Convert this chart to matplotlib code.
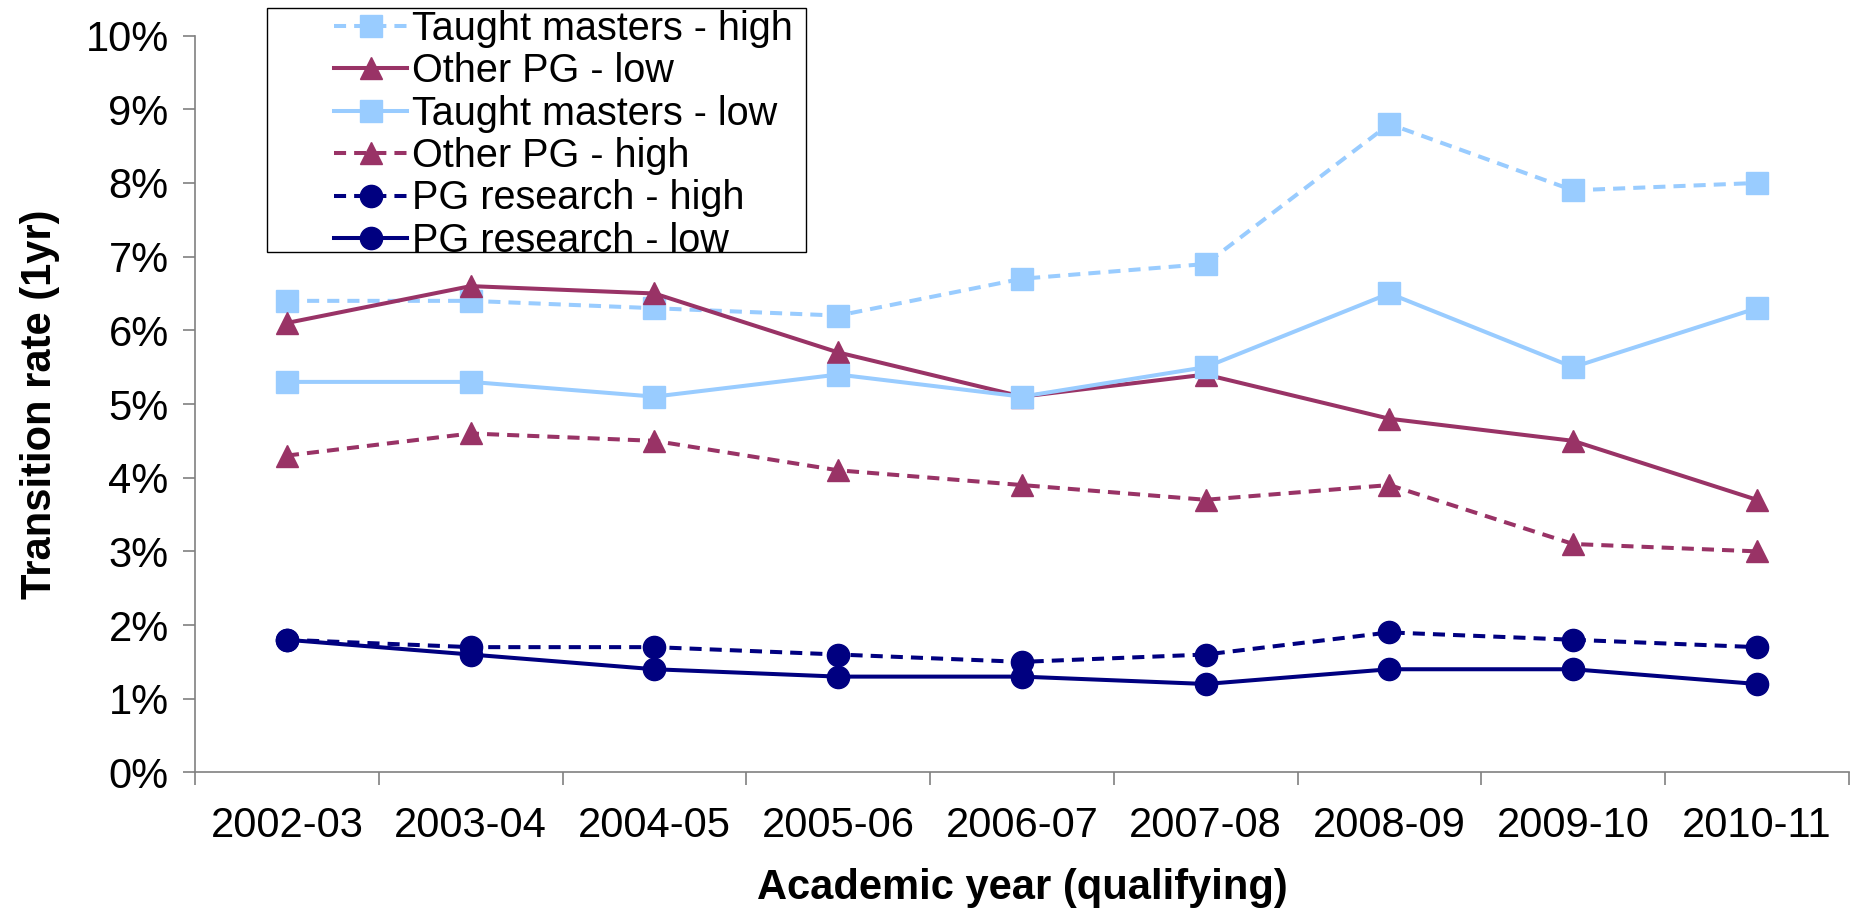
import matplotlib
matplotlib.use("Agg")
import matplotlib.pyplot as plt
from matplotlib.patches import Rectangle
import numpy as np

plt.rcParams['font.family'] = ['Liberation Sans', 'DejaVu Sans']

years = ['2002-03', '2003-04', '2004-05', '2005-06', '2006-07',
         '2007-08', '2008-09', '2009-10', '2010-11']

# transition rates, %
tm_high = [6.4, 6.4, 6.3, 6.2, 6.7, 6.9, 8.8, 7.9, 8.0]
opg_low = [6.1, 6.6, 6.5, 5.7, 5.1, 5.4, 4.8, 4.5, 3.7]
tm_low = [5.3, 5.3, 5.1, 5.4, 5.1, 5.5, 6.5, 5.5, 6.3]
opg_high = [4.3, 4.6, 4.5, 4.1, 3.9, 3.7, 3.9, 3.1, 3.0]
pgr_high = [1.8, 1.7, 1.7, 1.6, 1.5, 1.6, 1.9, 1.8, 1.7]
pgr_low = [1.8, 1.6, 1.4, 1.3, 1.3, 1.2, 1.4, 1.4, 1.2]

light = '#99CCFF'
purple = '#993366'
navy = '#000080'

W, H = 1858, 913
fig = plt.figure(figsize=(W / 100, H / 100), dpi=100)
ax = fig.add_axes([0.105, 0.154, 0.89, 0.807])

x = np.arange(len(years)) + 0.5
lw = 2.9
ms = 16
ds = (3.0, 2.0)

ax.plot(x, tm_high, color=light, lw=lw, ls='--', dashes=ds, marker='s', ms=ms,
        label='Taught masters - high')
ax.plot(x, opg_low, color=purple, lw=lw, marker='^', ms=ms,
        label='Other PG - low')
ax.plot(x, tm_low, color=light, lw=lw, marker='s', ms=ms,
        label='Taught masters - low')
ax.plot(x, opg_high, color=purple, lw=lw, ls='--', dashes=ds, marker='^', ms=ms,
        label='Other PG - high')
ax.plot(x, pgr_high, color=navy, lw=lw, ls='--', dashes=ds, marker='o', ms=ms,
        label='PG research - high')
ax.plot(x, pgr_low, color=navy, lw=lw, marker='o', ms=ms,
        label='PG research - low')

ax.set_xlim(0, len(years))
ax.set_ylim(0, 10)
ax.set_yticks(np.arange(0, 11, 1))
ax.set_yticklabels([f'{v}%' for v in range(11)], fontsize=30)
ax.set_xticks(np.arange(0, len(years) + 1))
ax.set_xticklabels([])
ax.set_xticks(x, minor=True)
ax.set_xticklabels(years, minor=True, fontsize=30)
ax.tick_params(axis='x', which='minor', length=0, pad=24)
ax.tick_params(axis='x', which='major', length=9, width=1.2, color='#808080', direction='out')
ax.tick_params(axis='y', length=9, width=1.2, color='#808080', pad=10)

for s in ['top', 'right']:
    ax.spines[s].set_visible(False)
for s in ['left', 'bottom']:
    ax.spines[s].set_color('#808080')
    ax.spines[s].set_linewidth(1.2)

ax.set_xlabel('Academic year (qualifying)', fontsize=30, fontweight='bold', labelpad=16)
ax.set_ylabel('Transition rate (1yr)', fontsize=30, fontweight='bold', labelpad=18)

# legend box drawn separately (the original has a wide left margin)
fig.patches.append(Rectangle((267 / W, 1 - 252 / H), (806 - 267) / W, (252 - 8) / H,
                             transform=fig.transFigure, fill=False,
                             edgecolor='black', lw=1.0, zorder=5))
leg = ax.legend(loc='upper left', bbox_to_anchor=(334 / W, 1 - 10 / H),
                bbox_transform=fig.transFigure, fontsize=28.5, frameon=False,
                handlelength=1.85, handletextpad=0.12, labelspacing=0.11,
                borderpad=0, borderaxespad=0)

fig.savefig('out.png', dpi=100)
